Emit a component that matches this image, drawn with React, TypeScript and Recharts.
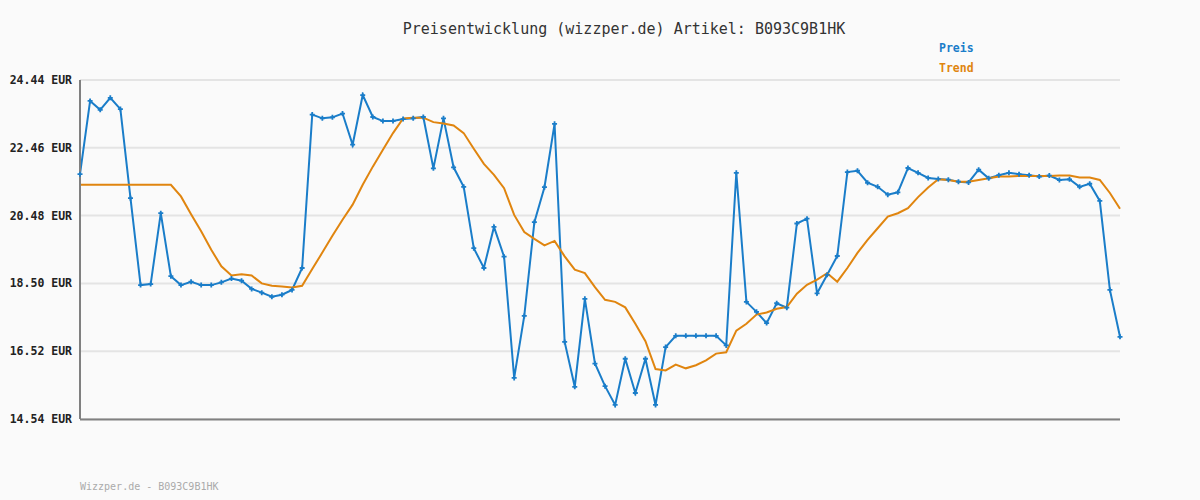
import React from 'react';
import { LineChart, Line, XAxis, YAxis, CartesianGrid } from 'recharts';

const preis = [
  21.69, 23.83, 23.57, 23.92, 23.59, 20.99, 18.45, 18.48, 20.55, 18.71,
  18.45, 18.55, 18.45, 18.45, 18.53, 18.64, 18.58, 18.34, 18.23, 18.11,
  18.17, 18.31, 18.95, 23.43, 23.32, 23.35, 23.46, 22.55, 24.0, 23.36,
  23.24, 23.24, 23.3, 23.32, 23.36, 21.86, 23.32, 21.89, 21.32, 19.53,
  18.95, 20.15, 19.28, 15.74, 17.55, 20.29, 21.31, 23.16, 16.79, 15.48,
  18.05, 16.16, 15.5, 14.95, 16.3, 15.3, 16.3, 14.95, 16.64, 16.97,
  16.97, 16.97, 16.97, 16.97, 16.69, 21.73, 17.96, 17.67, 17.34, 17.92,
  17.79, 20.25, 20.39, 18.21, 18.75, 19.3, 21.75, 21.79, 21.44, 21.32,
  21.09, 21.16, 21.87, 21.73, 21.58, 21.55, 21.53, 21.47, 21.45, 21.82,
  21.57, 21.66, 21.73, 21.69, 21.66, 21.62, 21.65, 21.52, 21.54, 21.32,
  21.41, 20.91, 18.31, 16.94,
];

const trend = [
  21.38, 21.38, 21.38, 21.38, 21.38, 21.38, 21.38, 21.38, 21.38, 21.38,
  21.04, 20.52, 20.02, 19.48, 19.0, 18.73, 18.77, 18.73, 18.5, 18.43,
  18.41, 18.38, 18.43, 18.92, 19.4, 19.89, 20.36, 20.8, 21.38, 21.91,
  22.4, 22.89, 23.32, 23.34, 23.34, 23.21, 23.17, 23.11, 22.89, 22.43,
  21.99, 21.67, 21.28, 20.5, 20.0, 19.8, 19.61, 19.74, 19.29, 18.9,
  18.8, 18.39, 18.02, 17.96, 17.8, 17.32, 16.81, 16.0, 15.96, 16.13,
  16.02, 16.11, 16.25, 16.45, 16.49, 17.12, 17.32, 17.59, 17.65, 17.76,
  17.81, 18.2, 18.46, 18.61, 18.8, 18.55, 18.95, 19.39, 19.77, 20.11,
  20.45, 20.55, 20.7, 21.02, 21.3, 21.54, 21.52, 21.47, 21.47, 21.52,
  21.57, 21.62, 21.62, 21.64, 21.64, 21.64, 21.64, 21.65, 21.65, 21.59,
  21.59, 21.52, 21.14, 20.68,
];

const categories = preis.map((_, i) => `T${i + 1}`);
const yTicks = [14.54, 16.52, 18.5, 20.48, 22.46, 24.44];
const title = 'Preisentwicklung (wizzper.de) Artikel: B093C9B1HK';
const footer = 'Wizzper.de - B093C9B1HK';
const seriesNames = ['Preis', 'Trend'];

const data = categories.map((c, i) => ({ name: c, preis: preis[i], trend: trend[i] }));

const BLUE = '#1a7dc9';
const ORANGE = '#e0850f';
const MONO = '"DejaVu Sans Mono", monospace';

const PlusDot = (props: any) => {
  const { cx, cy } = props;
  if (cx == null || cy == null) return null;
  return (
    <path
      d={`M${cx - 2.5},${cy}H${cx + 2.5}M${cx},${cy - 2.5}V${cy + 2.5}`}
      stroke={BLUE}
      strokeWidth={1.8}
      fill="none"
    />
  );
};

const YTick = (props: any) => {
  const { y, payload } = props;
  return (
    <text
      x={72}
      y={y}
      textAnchor="end"
      dominantBaseline="central"
      fontFamily={MONO}
      fontWeight="bold"
      fontSize={11.5}
      fill="#222"
    >
      {`${payload.value.toFixed(2)} EUR`}
    </text>
  );
};

export default function App() {
  return (
    <div style={{ position: 'absolute', left: 0, top: 0, width: 1200, height: 500, background: '#fafafa', fontFamily: MONO }}>
      <div style={{ position: 'absolute', left: 0, top: 20, width: 1248, textAlign: 'center', fontSize: 15, color: '#333', whiteSpace: 'pre' }}>
        {title}
      </div>
      <div style={{ position: 'absolute', left: 939, top: 41, fontSize: 11.5, fontWeight: 'bold', color: BLUE }}>{seriesNames[0]}</div>
      <div style={{ position: 'absolute', left: 939, top: 61, fontSize: 11.5, fontWeight: 'bold', color: ORANGE }}>{seriesNames[1]}</div>
      <div style={{ position: 'absolute', left: 80, top: 481, fontSize: 10, color: '#aaa', whiteSpace: 'pre' }}>{footer}</div>
      <LineChart width={1200} height={500} data={data} margin={{ top: 80, right: 80, bottom: 81, left: 0 }}>
        <CartesianGrid vertical={false} stroke="#e4e4e4" strokeWidth={2} />
        <XAxis dataKey="name" hide padding={{ left: 0, right: 0 }} />
        <YAxis
          width={80}
          domain={[14.54, 24.44]}
          ticks={yTicks}
          interval={0}
          tick={<YTick />}
          tickLine={false}
          axisLine={{ stroke: '#808080', strokeWidth: 2 }}
        />
        <Line type="linear" dataKey="preis" stroke={BLUE} strokeWidth={2} dot={false} isAnimationActive={false} />
        <Line type="linear" dataKey="trend" stroke={ORANGE} strokeWidth={2} dot={false} isAnimationActive={false} />
        <Line type="linear" dataKey="preis" stroke="none" dot={<PlusDot />} activeDot={false} isAnimationActive={false} legendType="none" />
      </LineChart>
      <svg width={1200} height={500} style={{ position: 'absolute', left: 0, top: 0, pointerEvents: 'none' }}>
        <line x1={80} y1={419.5} x2={1120} y2={419.5} stroke="#808080" strokeWidth={2} />
      </svg>
    </div>
  );
}
